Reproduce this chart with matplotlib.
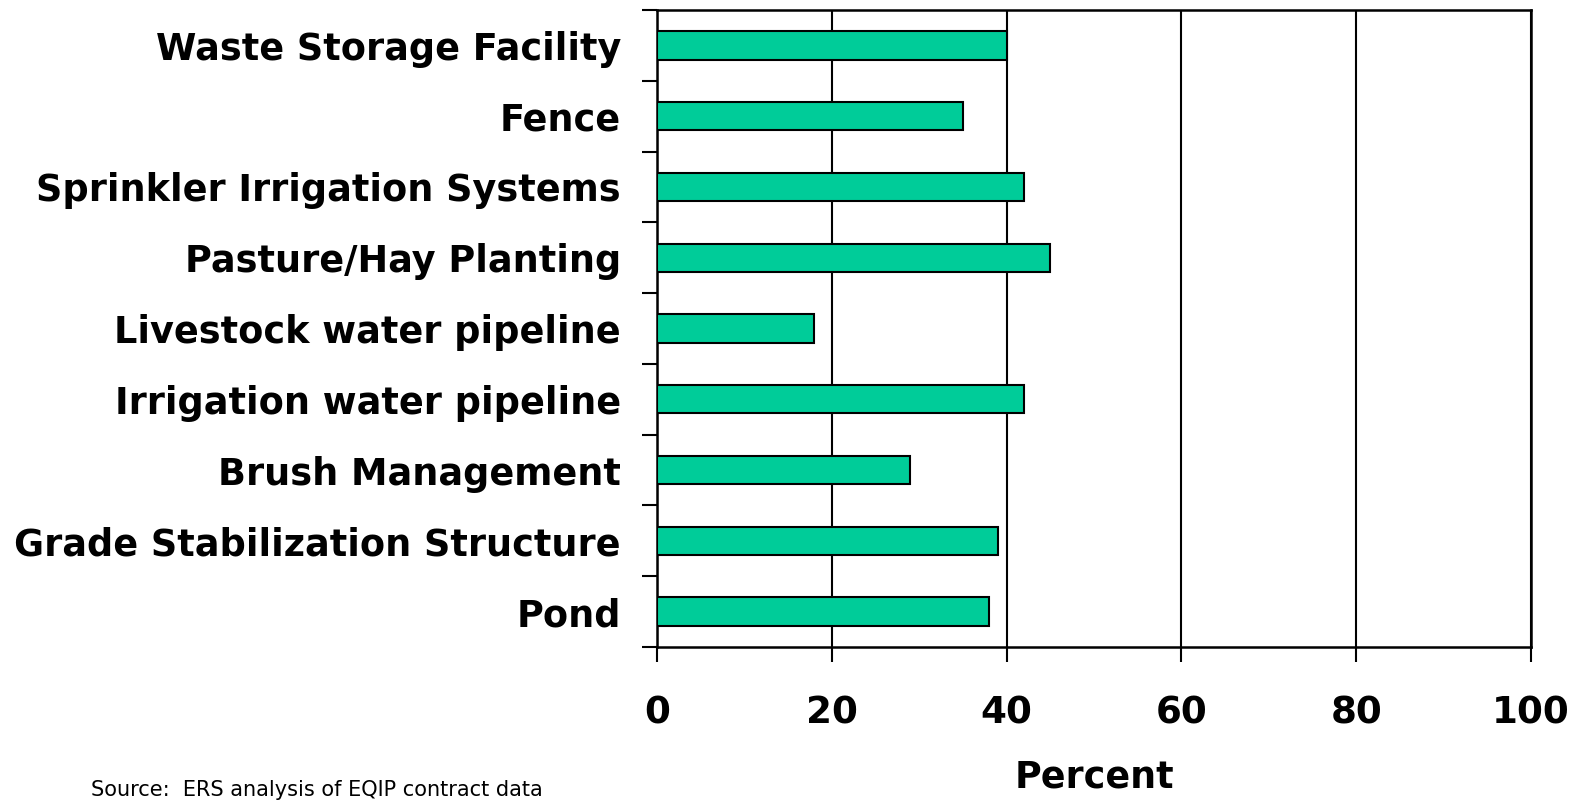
import matplotlib
matplotlib.use("Agg")
import matplotlib.pyplot as plt
import numpy as np

categories = [
    "Waste Storage Facility",
    "Fence",
    "Sprinkler Irrigation Systems",
    "Pasture/Hay Planting",
    "Livestock water pipeline",
    "Irrigation water pipeline",
    "Brush Management",
    "Grade Stabilization Structure",
    "Pond",
]
values = [40, 35, 42, 45, 18, 42, 29, 39, 38]
x_ticks = [0, 20, 40, 60, 80, 100]
x_label = "Percent"
source_text = "Source:  ERS analysis of EQIP contract data"

W, H = 1583, 801
fig = plt.figure(figsize=(W / 100, H / 100), dpi=100)
left, right, top, bottom = 657, 1531, 10, 647
ax = fig.add_axes([left / W, 1 - bottom / H, (right - left) / W, (bottom - top) / H])

n = len(categories)
ypos = np.arange(n)
ax.barh(ypos, values, height=0.4, color="#00CC99", edgecolor="black", linewidth=1.5, zorder=3)
ax.set_ylim(n - 0.5, -0.5)
ax.set_xlim(0, 100)

ax.set_xticks(x_ticks)
ax.set_xticklabels([str(t) for t in x_ticks], fontsize=26.8, fontweight="bold")
ax.tick_params(axis="x", length=11, width=1.5, pad=23, direction="out")

ax.set_yticks(ypos)
ax.set_yticklabels(categories, fontsize=26.4, fontweight="bold")
ax.tick_params(axis="y", which="major", length=0, pad=26)
ax.set_yticks(np.arange(-0.5, n, 1.0), minor=True)
ax.tick_params(axis="y", which="minor", length=11, width=1.5, direction="out")

ax.grid(axis="x", color="black", linewidth=1.5, zorder=1)
for s in ["left", "bottom", "top", "right"]:
    ax.spines[s].set_linewidth(1.8)
    ax.spines[s].set_color("black")

ax.set_xlabel(x_label, fontsize=26.3, fontweight="bold", labelpad=20)

fig.text(91 / W, 1 - 796 / H, source_text, fontsize=15, va="baseline", ha="left")

fig.savefig("out.png", dpi=100)
